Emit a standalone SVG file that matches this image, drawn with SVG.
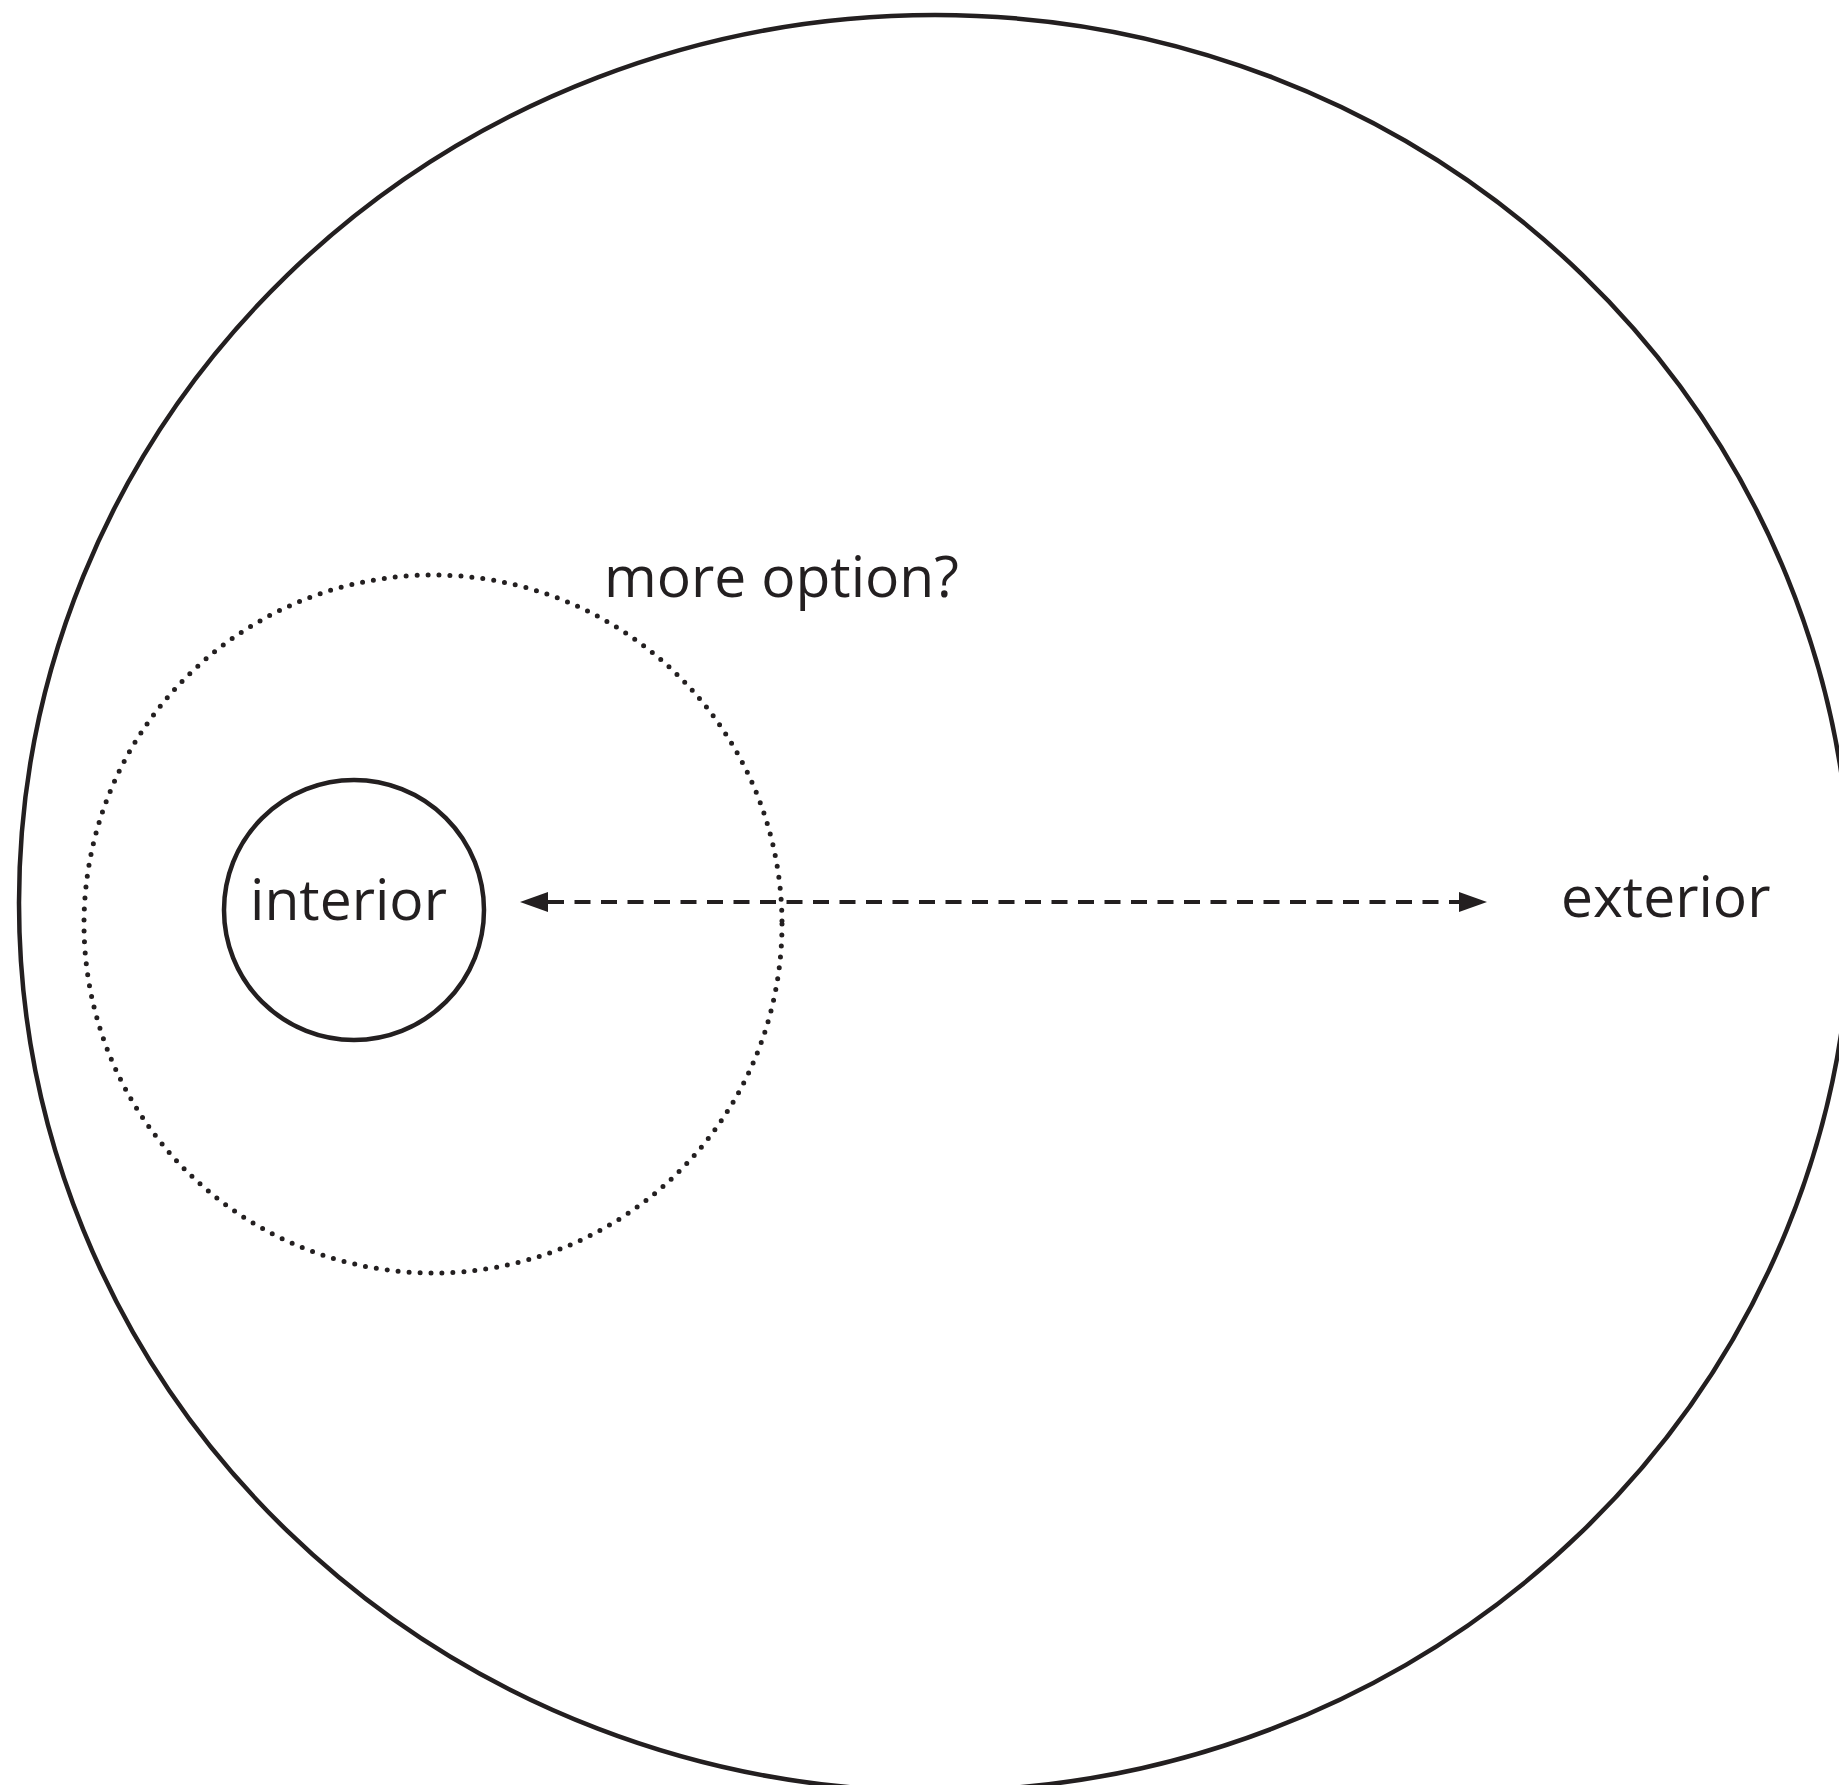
<svg xmlns="http://www.w3.org/2000/svg" width="1839" height="1785" viewBox="0 0 1839 1785">
<style>
.line{fill:none;stroke:#231f20;stroke-width:4.5}
.dots{fill:none;stroke:#231f20;stroke-width:5;stroke-linecap:round;stroke-dasharray:0 11}
.dash{fill:none;stroke:#231f20;stroke-width:4;stroke-dasharray:16 10.5}
.lbl{font-family:"Open Sans","Noto Sans",sans-serif;font-size:57px;fill:#231f20}
</style>
<defs>
<marker id="ah" viewBox="0 0 28 20" refX="0" refY="10" markerWidth="28" markerHeight="20" markerUnits="userSpaceOnUse" orient="auto-start-reverse">
<path d="M0,0 L28,10 L0,20 Z" fill="#231f20"/>
</marker>
</defs>
<rect width="1839" height="1785" fill="#ffffff"/>
<g id="exterior-region">
<ellipse class="line" cx="935" cy="903" rx="916" ry="888"/>
<text class="lbl" x="1561" y="917">exterior</text>
</g>
<g id="more-option">
<circle class="dots" cx="433" cy="924" r="349"/>
<text class="lbl" x="604" y="597">more option?</text>
</g>
<g id="interior">
<circle class="line" cx="354" cy="910" r="130"/>
<text class="lbl" x="250" y="920">interior</text>
</g>
<g id="connectors">
<line class="dash" x1="548" y1="902" x2="1459" y2="902" marker-start="url(#ah)" marker-end="url(#ah)"/>
</g>
</svg>
